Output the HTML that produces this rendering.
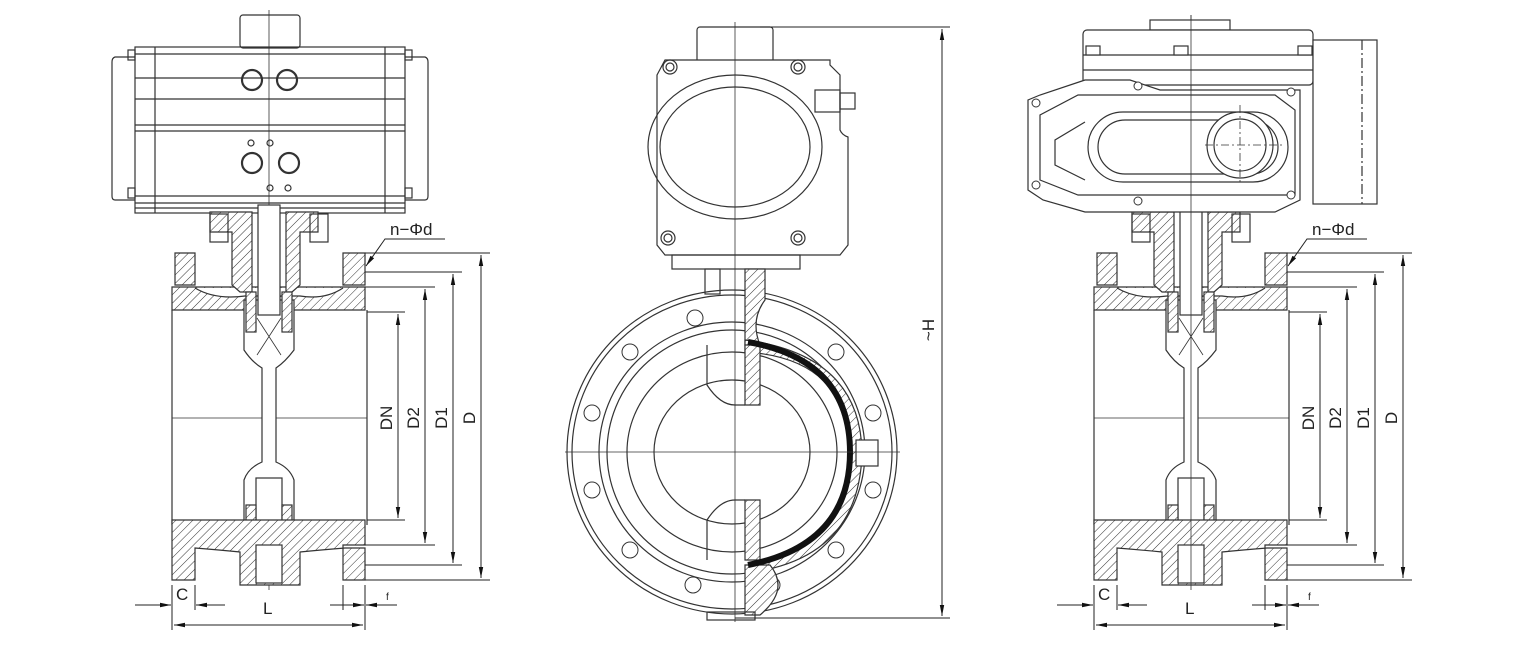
<!DOCTYPE html>
<html><head><meta charset="utf-8"><style>
html,body{margin:0;padding:0;background:#fff;}
svg{display:block}
text{font-family:"Liberation Sans",sans-serif;fill:#222}
</style></head><body>
<svg width="1534" height="661" viewBox="0 0 1534 661" xmlns="http://www.w3.org/2000/svg">
<defs>
<pattern id="h" patternUnits="userSpaceOnUse" width="6" height="6" patternTransform="rotate(45)">
<rect width="6" height="6" fill="#fff"/><line x1="0" y1="0" x2="0" y2="6" stroke="#333" stroke-width="1"/></pattern>
<marker id="a" viewBox="0 0 10 10" refX="10" refY="5" markerWidth="11" markerHeight="11" orient="auto-start-reverse"><path d="M0,3 L10,5 L0,7z" fill="#111"/></marker>
<g id="body" fill="none" stroke="#333" stroke-width="1.2">
 <path d="M175,253 H195 V285 H175Z" fill="url(#h)"/>
 <path d="M343,253 H365 V285 H343Z" fill="url(#h)"/>
 <path d="M172,287 H365 V310 H172Z" fill="url(#h)"/>
 <path d="M195,288 Q215,300 245,296 H300 Q325,300 343,288" fill="#fff"/>
 <path d="M228,212 H252 V292 H240 L232,285 V232 H210 V212Z" fill="url(#h)"/>
 <path d="M286,212 H318 V232 H300 V285 L292,292 H286Z" fill="url(#h)"/>
 <rect x="210" y="214" width="18" height="28"/><rect x="310" y="214" width="18" height="28"/>
 <line x1="172" y1="310" x2="172" y2="525"/><line x1="367" y1="310" x2="367" y2="525"/>
 <line x1="172" y1="418" x2="367" y2="418" stroke-width="0.7"/>
 <path d="M244,300 H294 V350 Q285,362 276,368 V462 Q290,468 294,480 V525 H244 V480 Q248,468 262,462 V368 Q252,362 244,350Z" fill="#fff"/>
 <rect x="246" y="292" width="10" height="40" fill="url(#h)"/><rect x="282" y="292" width="10" height="40" fill="url(#h)"/>
 <path d="M257,318 L281,355 M281,318 L257,355" stroke-width="0.8"/>
 <rect x="256" y="478" width="26" height="80"/>
 <rect x="246" y="505" width="10" height="40" fill="url(#h)"/><rect x="282" y="505" width="10" height="40" fill="url(#h)"/>
 <path d="M172,520 H365 V545 H343 V580 H365 V548 H345 Q320,550 300,552 V585 H240 V552 Q220,550 195,548 V580 H172Z" fill="url(#h)"/>
 <rect x="256" y="545" width="26" height="38" fill="#fff"/>
 <rect x="258" y="205" width="22" height="110" fill="#fff"/>
</g>
</defs>

<g fill="none" stroke="#333" stroke-width="1.2">
 <rect x="240" y="15" width="60" height="33" rx="3"/>
 <rect x="135" y="47" width="270" height="166"/>
 <path d="M135,57 H115 Q112,58 112,62 V196 Q112,200 115,200 H135"/>
 <path d="M405,57 H425 Q428,58 428,62 V196 Q428,200 425,200 H405"/>
 <rect x="128" y="50" width="7" height="10"/><rect x="405" y="50" width="7" height="10"/>
 <rect x="128" y="188" width="7" height="10"/><rect x="405" y="188" width="7" height="10"/>
 <line x1="135" y1="54" x2="405" y2="54"/>
 <line x1="155" y1="47" x2="155" y2="213"/><line x1="385" y1="47" x2="385" y2="213"/>
 <line x1="135" y1="78" x2="405" y2="78"/><line x1="135" y1="99" x2="405" y2="99"/>
 <line x1="135" y1="125" x2="405" y2="125"/><line x1="135" y1="131" x2="405" y2="131"/>
 <line x1="135" y1="196" x2="405" y2="196"/><line x1="135" y1="203" x2="405" y2="203"/><line x1="135" y1="208" x2="405" y2="208"/>
 <g stroke-width="2.2"><circle cx="252" cy="80" r="10"/><circle cx="287" cy="80" r="10"/><circle cx="252" cy="163" r="10"/><circle cx="289" cy="163" r="10"/></g>
 <circle cx="251" cy="143" r="3"/><circle cx="270" cy="143" r="3"/><circle cx="270" cy="188" r="3"/><circle cx="288" cy="188" r="3"/>
 <line x1="269" y1="10" x2="269" y2="590" stroke-width="0.8"/>
</g>
<use href="#body"/>
<use href="#body" transform="translate(922,0)"/>
<line x1="1191" y1="15" x2="1191" y2="590" stroke="#333" stroke-width="0.8"/>

<g id="dims" stroke="#222" stroke-width="1" fill="none">
 <line x1="365" y1="253" x2="490" y2="253"/><line x1="365" y1="272" x2="462" y2="272"/>
 <line x1="365" y1="287" x2="435" y2="287"/><line x1="367" y1="312" x2="405" y2="312"/>
 <line x1="367" y1="520" x2="405" y2="520"/><line x1="365" y1="545" x2="435" y2="545"/>
 <line x1="365" y1="565" x2="462" y2="565"/><line x1="365" y1="580" x2="490" y2="580"/>
 <line x1="398" y1="314" x2="398" y2="518" marker-start="url(#a)" marker-end="url(#a)"/>
 <line x1="425" y1="289" x2="425" y2="543" marker-start="url(#a)" marker-end="url(#a)"/>
 <line x1="453" y1="274" x2="453" y2="563" marker-start="url(#a)" marker-end="url(#a)"/>
 <line x1="481" y1="255" x2="481" y2="578" marker-start="url(#a)" marker-end="url(#a)"/>
 <line x1="172" y1="585" x2="172" y2="630"/><line x1="195" y1="585" x2="195" y2="610"/>
 <line x1="365" y1="585" x2="365" y2="630"/><line x1="343" y1="585" x2="343" y2="610"/>
 <line x1="135" y1="605" x2="171" y2="605" marker-end="url(#a)"/><line x1="225" y1="605" x2="196" y2="605" marker-end="url(#a)"/>
 <line x1="330" y1="605" x2="364" y2="605" marker-end="url(#a)"/><line x1="397" y1="605" x2="366" y2="605" marker-end="url(#a)"/>
 <line x1="174" y1="625" x2="363" y2="625" marker-start="url(#a)" marker-end="url(#a)"/>
 <path d="M445,239 H385 L366,266" marker-end="url(#a)"/>
</g>
<use href="#dims" transform="translate(922,0)"/>
<g font-size="17">
 <text x="390" y="235">n−Φd</text><text x="1312" y="235">n−Φd</text>
 <text x="176" y="600">C</text><text x="1098" y="600">C</text>
 <text x="263" y="614">L</text><text x="1185" y="614">L</text>
 <text x="386" y="600" font-size="10">f</text><text x="1308" y="600" font-size="10">f</text>
 <g transform="translate(392,418) rotate(-90)"><text text-anchor="middle">DN</text></g>
 <g transform="translate(419,418) rotate(-90)"><text text-anchor="middle">D2</text></g>
 <g transform="translate(447,418) rotate(-90)"><text text-anchor="middle">D1</text></g>
 <g transform="translate(475,418) rotate(-90)"><text text-anchor="middle">D</text></g>
 <g transform="translate(1314,418) rotate(-90)"><text text-anchor="middle">DN</text></g>
 <g transform="translate(1341,418) rotate(-90)"><text text-anchor="middle">D2</text></g>
 <g transform="translate(1369,418) rotate(-90)"><text text-anchor="middle">D1</text></g>
 <g transform="translate(1397,418) rotate(-90)"><text text-anchor="middle">D</text></g>
 <g transform="translate(934,330) rotate(-90)"><text text-anchor="middle">~H</text></g>
</g>

<g fill="#fff" stroke="#333" stroke-width="1.2">
 <rect x="1150" y="20" width="80" height="10"/>
 <rect x="1083" y="30" width="230" height="55" rx="4"/>
 <line x1="1083" y1="55" x2="1313" y2="55"/><line x1="1083" y1="70" x2="1313" y2="70"/>
 <rect x="1086" y="46" width="14" height="9"/><rect x="1174" y="46" width="14" height="9"/><rect x="1298" y="46" width="14" height="9"/>
 <rect x="1313" y="40" width="64" height="164"/>
 <line x1="1362" y1="40" x2="1362" y2="204" stroke-dasharray="10,3,2,3"/>
 <path d="M1085,80 L1040,95 L1028,100 V190 L1043,200 L1085,212 H1275 L1300,200 V90 H1160 L1130,80Z"/>
 <path d="M1078,95 H1275 L1295,110 V195 H1078 L1040,180 V115Z"/>
 <path d="M1085,122 L1055,140 V165 L1085,180"/>
 <rect x="1088" y="112" width="200" height="70" rx="35"/>
 <rect x="1098" y="120" width="180" height="54" rx="27"/>
 <circle cx="1240" cy="145" r="33"/><circle cx="1240" cy="145" r="26"/>
 <line x1="1205" y1="145" x2="1285" y2="145" stroke-dasharray="8,3,2,3" stroke-width="0.8"/>
 <line x1="1240" y1="105" x2="1240" y2="185" stroke-dasharray="8,3,2,3" stroke-width="0.8"/>
 <g stroke-width="1"><circle cx="1036" cy="103" r="4"/><circle cx="1036" cy="185" r="4"/><circle cx="1138" cy="86" r="4"/><circle cx="1138" cy="201" r="4"/><circle cx="1291" cy="92" r="4"/><circle cx="1291" cy="195" r="4"/></g>
 <line x1="1191" y1="15" x2="1191" y2="212" fill="none" stroke-width="0.8"/>
</g>

<g fill="none" stroke="#333" stroke-width="1.2">
 <rect x="697" y="27" width="76" height="38" rx="3"/>
 <path d="M665,60 H830 V65 L840,75 V130 Q842,135 848,137 V245 L840,255 H665 L657,245 V75Z" fill="#fff"/>
 <ellipse cx="735" cy="147" rx="87" ry="72"/>
 <ellipse cx="735" cy="147" rx="75" ry="60"/>
 <g><circle cx="670" cy="67" r="7"/><circle cx="670" cy="67" r="4"/><circle cx="798" cy="67" r="7"/><circle cx="798" cy="67" r="4"/>
 <circle cx="668" cy="238" r="7"/><circle cx="668" cy="238" r="4"/><circle cx="798" cy="238" r="7"/><circle cx="798" cy="238" r="4"/></g>
 <rect x="815" y="90" width="25" height="22"/><rect x="840" y="93" width="15" height="16"/>
 <rect x="672" y="255" width="128" height="14"/>
 <rect x="705" y="269" width="15" height="25"/>
 <ellipse cx="732" cy="452" rx="165" ry="162"/>
 <ellipse cx="732" cy="452" rx="160" ry="157"/>
 <ellipse cx="732" cy="452" rx="133" ry="130"/>
 <ellipse cx="732" cy="452" rx="125" ry="122"/>
 <ellipse cx="732" cy="452" rx="105" ry="100"/>
 <ellipse cx="732" cy="452" rx="78" ry="72"/>
 <path d="M707,345 V385 Q720,405 735,405 H745"/><path d="M707,560 V520 Q720,500 735,500 H745"/>
 <g stroke-width="1"><circle cx="695" cy="318" r="8"/><circle cx="630" cy="352" r="8"/><circle cx="592" cy="413" r="8"/><circle cx="592" cy="490" r="8"/><circle cx="630" cy="550" r="8"/><circle cx="693" cy="585" r="8"/>
 <circle cx="836" cy="352" r="8"/><circle cx="873" cy="413" r="8"/><circle cx="873" cy="490" r="8"/><circle cx="836" cy="550" r="8"/><circle cx="772" cy="585" r="8"/></g>
 <path d="M745,269 H765 V300 Q750,320 760,345 L745,345Z" fill="url(#h)"/>
 <path d="M745,340 Q860,355 862,452 Q860,550 765,570 L762,560 Q848,540 850,452 Q848,358 745,352Z" fill="url(#h)"/>
 <path d="M745,345 H760 V405 H745Z M745,500 H760 V560 H745Z" fill="url(#h)"/>
 <path d="M745,565 H770 Q790,590 760,615 H745Z" fill="url(#h)"/>
 <path d="M748,342 Q850,360 850,452 Q850,545 748,565" stroke="#111" stroke-width="6"/>
 <rect x="856" y="440" width="22" height="26" fill="#fff"/>
 <line x1="735" y1="22" x2="735" y2="622" stroke-width="0.8"/>
 <line x1="565" y1="452" x2="900" y2="452" stroke-width="0.8"/>
 <rect x="707" y="612" width="48" height="8"/>
</g>
<g stroke="#222" stroke-width="1" fill="none">
 <line x1="760" y1="27" x2="950" y2="27"/><line x1="735" y1="618" x2="950" y2="618"/>
 <line x1="942" y1="29" x2="942" y2="616" marker-start="url(#a)" marker-end="url(#a)"/>
</g>
</svg>
</body></html>
